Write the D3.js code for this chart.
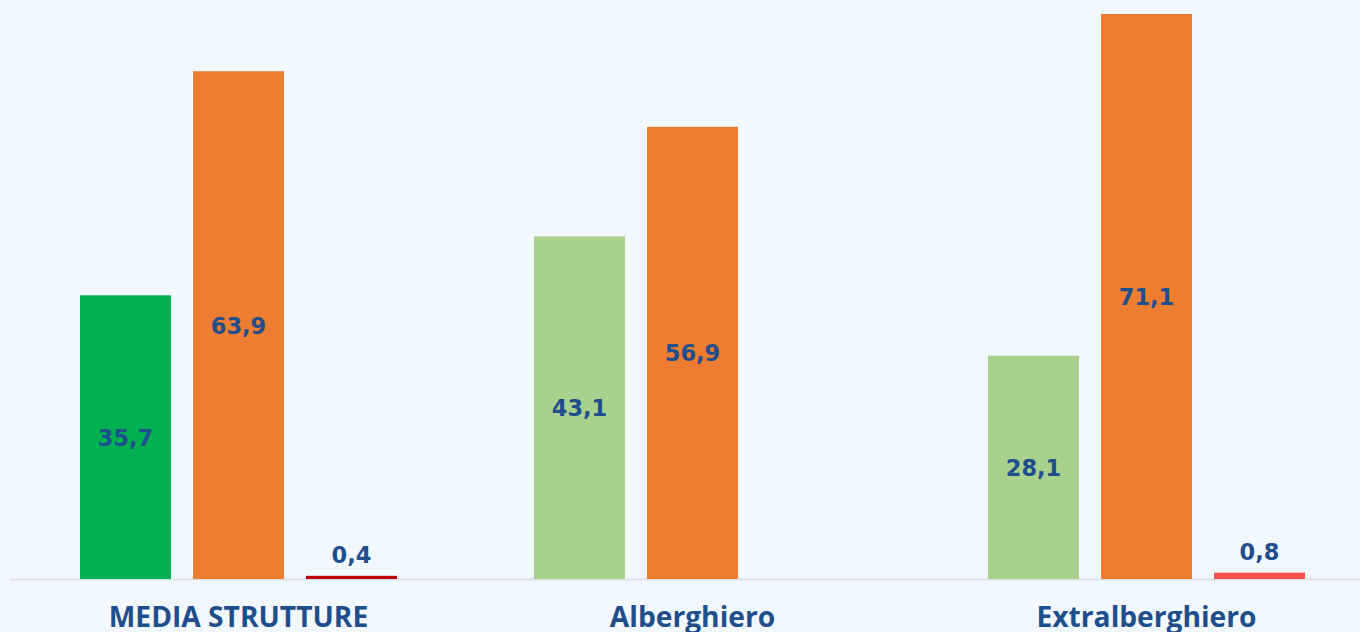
<!DOCTYPE html>
<html><head><meta charset="utf-8">
<script src="https://cdn.jsdelivr.net/npm/d3@7"></script>
<style>html,body{margin:0;padding:0;background:#F1F8FE;}svg{display:block;}</style>
</head><body>
<svg id="c" width="1360" height="632"></svg>
<script>
const categories = ["MEDIA STRUTTURE", "Alberghiero", "Extralberghiero"];
const seriesKeys = ["s1", "s2", "s3"];
const values1 = [35.7, 43.1, 28.1];
const values2 = [63.9, 56.9, 71.1];
const values3 = [0.4, null, 0.8];
const labels1 = ["35,7", "43,1", "28,1"];
const labels2 = ["63,9", "56,9", "71,1"];
const labels3 = ["0,4", "", "0,8"];
const colors1 = ["#00B050", "#A9D18E", "#A9D18E"];
const colors2 = ["#ED7D31", "#ED7D31", "#ED7D31"];
const colors3 = ["#C00000", "#FF5050", "#FF5050"];

const svg = d3.select("#c");
const baseY = 579, topY = 14;
const x0 = d3.scaleBand().domain(categories).range([11.5, 1373.5]).paddingInner(0).paddingOuter(0);
const y = d3.scaleLinear().domain([0, 71.1]).range([baseY, topY]);

const rows = categories.map((c, i) => ({
  cat: c,
  bars: [
    {k: "s1", v: values1[i], l: labels1[i], col: colors1[i]},
    {k: "s2", v: values2[i], l: labels2[i], col: colors2[i]},
    {k: "s3", v: values3[i], l: labels3[i], col: colors3[i]}
  ].filter(b => b.v != null)
}));

const bw = 91, gap = 22;
const x1 = d3.scaleBand().domain(seriesKeys)
  .range([x0.bandwidth()/2 - (3*bw + 2*gap)/2, x0.bandwidth()/2 + (3*bw + 2*gap)/2])
  .paddingInner(gap/(bw+gap)).paddingOuter(0);

svg.append("line").attr("x1", 11).attr("x2", 1360).attr("y1", baseY + 0.5).attr("y2", baseY + 0.5)
  .attr("stroke", "#DCE1EA").attr("stroke-width", 2);

const g = svg.selectAll("g.cat").data(rows).join("g").attr("class", "cat")
  .attr("transform", d => `translate(${x0(d.cat)},0)`);

g.selectAll("rect").data(d => d.bars).join("rect")
  .attr("x", d => x1(d.k)).attr("width", x1.bandwidth())
  .attr("y", d => y(d.v)).attr("height", d => baseY - y(d.v))
  .attr("fill", d => d.col);

g.selectAll("text.val").data(d => d.bars).join("text").attr("class", "val")
  .attr("x", d => x1(d.k) + x1.bandwidth()/2)
  .attr("y", d => d.v > 5 ? (y(d.v) + baseY)/2 + 8.5 : y(d.v) - 13)
  .attr("text-anchor", "middle")
  .attr("font-family", "'DejaVu Sans', sans-serif").attr("font-weight", 700).attr("font-size", 22.5)
  .attr("fill", "#1F4E8C").text(d => d.l);

svg.selectAll("text.cat").data(categories).join("text").attr("class", "cat")
  .attr("x", d => x0(d) + x0.bandwidth()/2).attr("y", 627)
  .attr("text-anchor", "middle")
  .attr("font-family", "'Open Sans', sans-serif").attr("font-weight", 700).attr("font-size", 28.2)
  .attr("fill", "#1F4E8C").text(d => d);
</script>
</body></html>
